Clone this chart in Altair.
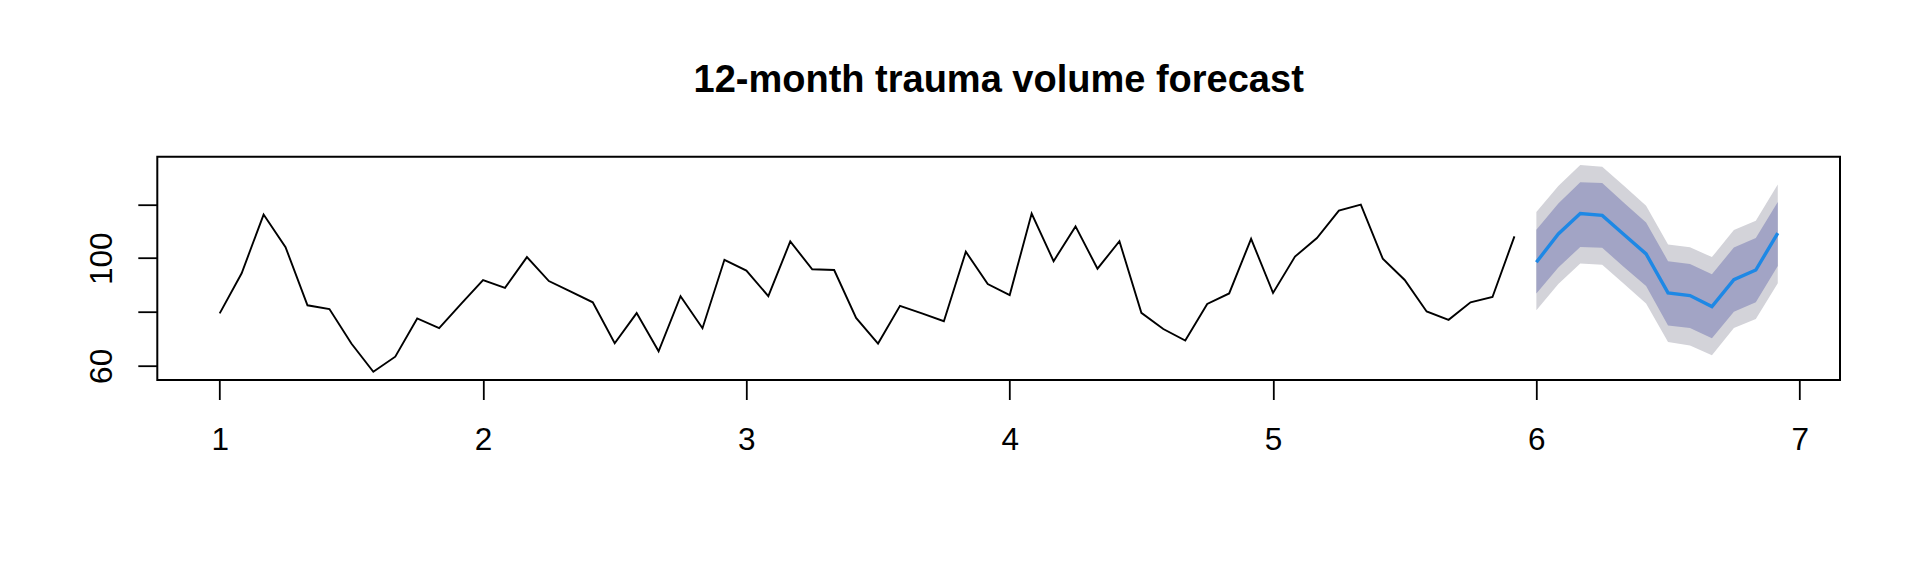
import altair as alt
import pandas as pd

# Observed monthly trauma volumes (5 years, monthly)
obs_values = [79.5, 94.4, 116.2, 104.1, 82.5, 81.1, 68.3, 57.8, 63.4, 77.6, 74.0, 83.0,
              91.9, 89.0, 100.4, 91.5, 87.6, 83.6, 68.4, 79.6, 65.4, 85.9, 74.0, 99.4,
              95.4, 85.9, 106.2, 95.9, 95.6, 77.8, 68.3, 82.3, 79.5, 76.6, 102.4, 90.4,
              86.3, 116.6, 98.9, 111.8, 96.1, 106.3, 79.7, 73.7, 69.4, 83.0, 86.9, 107.2,
              87.1, 100.6, 107.5, 117.7, 119.9, 99.8, 91.9, 80.2, 77.1, 83.6, 85.6, 108.1]

# 12-month forecast
fc_mean = [98.5, 109.0, 116.6, 115.9, 108.7, 101.6, 87.1, 86.1, 82.0, 92.0, 95.6, 109.3]
fc_lo80 = [86.9, 96.5, 104.2, 103.9, 96.6, 89.7, 75.0, 74.1, 70.3, 80.1, 83.6, 97.1]
fc_hi80 = [110.6, 120.3, 128.2, 127.9, 120.5, 113.3, 98.9, 97.8, 94.0, 104.0, 107.5, 120.9]
fc_lo95 = [80.7, 90.4, 98.0, 97.6, 90.4, 83.2, 68.9, 67.6, 63.9, 74.1, 77.4, 90.7]
fc_hi95 = [117.2, 126.8, 134.6, 134.0, 126.8, 119.5, 105.1, 104.1, 100.4, 110.5, 113.9, 127.4]

x_ticks = [1, 2, 3, 4, 5, 6, 7]
y_ticks = [60, 80, 100, 120]
y_labels_shown = [60, 100]

obs_df = pd.DataFrame({"t": [1 + i / 12 for i in range(len(obs_values))], "v": obs_values})
fc_df = pd.DataFrame({
    "t": [6 + i / 12 for i in range(len(fc_mean))],
    "mean": fc_mean, "lo80": fc_lo80, "hi80": fc_hi80, "lo95": fc_lo95, "hi95": fc_hi95,
})

FONT = "Liberation Sans"

xscale = alt.Scale(domain=[0.763, 7.153], nice=False, zero=False)
yscale = alt.Scale(domain=[54.75, 137.7], nice=False, zero=False)
xaxis = alt.Axis(values=x_ticks, title=None, format="d", labelFontSize=31.5, labelFont=FONT,
                 labelBaseline="alphabetic", labelPadding=50, labelColor="black",
                 grid=False, domain=False, ticks=True, tickColor="black", tickWidth=1.8,
                 tickSize=19.5)
label_expr = "indexof([" + ",".join(str(v) for v in y_labels_shown) + "], datum.value) >= 0 ? datum.label : ''"
yaxis = alt.Axis(values=y_ticks, title=None, format="d", labelFontSize=31.5, labelFont=FONT,
                 labelAngle=-90, labelAlign="center", labelBaseline="alphabetic",
                 labelPadding=26, labelExpr=label_expr, labelColor="black",
                 grid=False, domain=False, ticks=True, tickColor="black", tickWidth=1.8,
                 tickSize=19.5)

band95 = alt.Chart(fc_df).mark_area(color="#D3D3D9", opacity=1).encode(
    x=alt.X("t:Q", scale=xscale, axis=xaxis),
    y=alt.Y("lo95:Q", scale=yscale, axis=yaxis),
    y2="hi95:Q",
)
band80 = alt.Chart(fc_df).mark_area(color="#A2A4C5", opacity=1).encode(
    x=alt.X("t:Q", scale=xscale, axis=xaxis),
    y=alt.Y("lo80:Q", scale=yscale, axis=yaxis),
    y2="hi80:Q",
)
obs_line = alt.Chart(obs_df).mark_line(color="black", strokeWidth=1.9).encode(
    x=alt.X("t:Q", scale=xscale, axis=xaxis),
    y=alt.Y("v:Q", scale=yscale, axis=yaxis),
)
fc_line = alt.Chart(fc_df).mark_line(color="#1E88E5", strokeWidth=3.4).encode(
    x=alt.X("t:Q", scale=xscale, axis=xaxis),
    y=alt.Y("mean:Q", scale=yscale, axis=yaxis),
)

chart = alt.layer(band95, band80, obs_line, fc_line).properties(
    width=1682.7,
    height=223.3,
    background="white",
    autosize=alt.AutoSizeParams(type="none"),
    padding={"left": 149.3, "top": 148.7, "right": 60, "bottom": 170},
    title=alt.TitleParams(
        "12-month trauma volume forecast", fontSize=38, font=FONT, fontWeight="bold",
        anchor="middle", baseline="alphabetic", offset=27, color="black",
    ),
).configure_view(
    stroke="black", strokeWidth=2, fill="white"
)

chart.save("out.html", embed_options={"renderer": "svg", "actions": False})
